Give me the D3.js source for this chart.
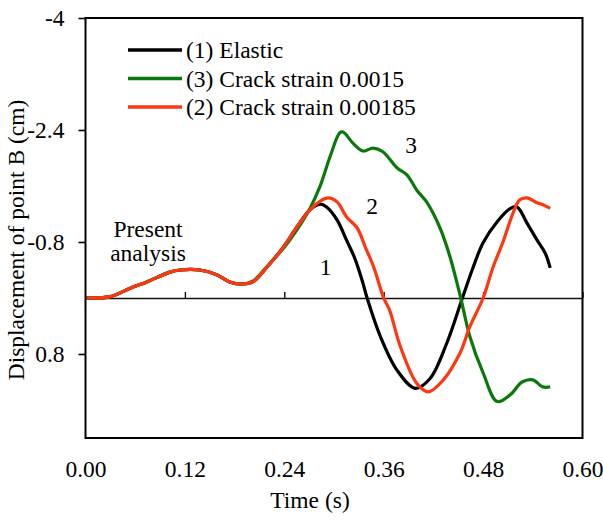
<!DOCTYPE html>
<html>
<head>
<meta charset="utf-8">
<script src="https://cdn.jsdelivr.net/npm/d3@7"></script>
<style>
    body { margin: 0; background: #ffffff; }
    text { font-family: "Liberation Serif", "Times New Roman", serif; fill: #000; }
</style>
</head>
<body>
<div id="chart"></div>
<script>
// time (s), displacement (cm)
const elastic = [
    [0.000, 0.00], [0.030, -0.02], [0.054, -0.14], [0.074, -0.23], [0.102, -0.37],
    [0.114, -0.40], [0.138, -0.40], [0.159, -0.33], [0.174, -0.23], [0.190, -0.20],
    [0.202, -0.23], [0.219, -0.44], [0.239, -0.73], [0.255, -1.01], [0.271, -1.26],
    [0.283, -1.34], [0.291, -1.30], [0.304, -1.11], [0.315, -0.83], [0.325, -0.57],
    [0.334, -0.25], [0.340, 0.00], [0.356, 0.55], [0.376, 1.03], [0.398, 1.29],
    [0.416, 1.15], [0.436, 0.65], [0.455, 0.00], [0.468, -0.44], [0.480, -0.79],
    [0.497, -1.09], [0.513, -1.28], [0.521, -1.30], [0.533, -1.07], [0.545, -0.83],
    [0.555, -0.64], [0.561, -0.43]
];
const crack15 = [
    [0.000, 0.00], [0.030, -0.02], [0.054, -0.14], [0.074, -0.23], [0.102, -0.37],
    [0.114, -0.40], [0.138, -0.40], [0.159, -0.33], [0.174, -0.23], [0.190, -0.20],
    [0.202, -0.24], [0.219, -0.45], [0.239, -0.71], [0.255, -0.97], [0.271, -1.28],
    [0.283, -1.59], [0.295, -2.01], [0.307, -2.36], [0.311, -2.37], [0.323, -2.21],
    [0.335, -2.10], [0.347, -2.14], [0.359, -2.09], [0.376, -1.86], [0.388, -1.76],
    [0.400, -1.54], [0.412, -1.37], [0.428, -1.00], [0.440, -0.59], [0.453, 0.00],
    [0.464, 0.55], [0.480, 1.07], [0.497, 1.48], [0.513, 1.38], [0.527, 1.20],
    [0.540, 1.17], [0.552, 1.27], [0.561, 1.27]
];
const crack185 = [
    [0.000, 0.00], [0.030, -0.02], [0.054, -0.14], [0.074, -0.23], [0.102, -0.37],
    [0.114, -0.40], [0.138, -0.40], [0.159, -0.33], [0.174, -0.23], [0.190, -0.20],
    [0.202, -0.23], [0.219, -0.44], [0.239, -0.73], [0.255, -1.01], [0.271, -1.26],
    [0.283, -1.38], [0.293, -1.43], [0.304, -1.37], [0.315, -1.16], [0.328, -1.00],
    [0.338, -0.72], [0.348, -0.44], [0.360, 0.00], [0.367, 0.17], [0.380, 0.69],
    [0.400, 1.22], [0.414, 1.34], [0.432, 1.17], [0.452, 0.79], [0.464, 0.41],
    [0.480, 0.00], [0.492, -0.44], [0.504, -0.80], [0.516, -1.21], [0.524, -1.40],
    [0.533, -1.43], [0.545, -1.36], [0.553, -1.33], [0.561, -1.28]
];

const xTicks = [0, 0.12, 0.24, 0.36, 0.48, 0.60];
const yTicks = [-4, -2.4, -0.8, 0.8];
const seriesNames = ["(1) Elastic", "(3) Crack strain 0.0015", "(2) Crack strain 0.00185"];
const seriesColors = ["#000000", "#0b780b", "#ff3612"];
const curveLabels = [["1", 0.290, -0.45], ["2", 0.346, -1.31], ["3", 0.393, -2.19]];

const width = 603;
const height = 523;
const fontSize = 23.5;

const svg = d3.select("#chart")
    .append("svg")
    .attr("width", width)
    .attr("height", height);

const x = d3.scaleLinear().domain([0, 0.6]).range([85.5, 582.5]);
const y = d3.scaleLinear().domain([-4, 2]).range([18, 438]);

// y axis ticks + labels (left, outside the frame)
svg.append("g")
    .attr("transform", `translate(${x(0)},0)`)
    .call(d3.axisLeft(y).tickValues(yTicks).tickSize(7).tickPadding(14).tickFormat(d => d))
    .call(g => g.select(".domain").remove())
    .call(g => g.selectAll("line").attr("stroke", "#000").attr("stroke-width", 1.6))
    .call(g => g.selectAll("text")
        .style("font-family", "Liberation Serif")
        .style("font-size", fontSize + "px")
        .attr("dy", "0.33em"));

// x tick labels under the frame
svg.append("g")
    .attr("transform", `translate(0,${y(2)})`)
    .call(d3.axisBottom(x).tickValues(xTicks).tickSize(0).tickFormat(d3.format(".2f")))
    .call(g => g.select(".domain").remove())
    .call(g => g.selectAll("text")
        .style("font-family", "Liberation Serif")
        .style("font-size", fontSize + "px")
        .attr("y", 39)
        .attr("dy", 0));

// zero line with small upward ticks
svg.append("g")
    .attr("transform", `translate(0,${y(0)})`)
    .call(d3.axisTop(x).tickValues(xTicks.slice(1)).tickSize(6).tickSizeOuter(0).tickFormat(""))
    .call(g => g.select(".domain").attr("stroke", "#111").attr("stroke-width", 1.6))
    .call(g => g.selectAll("line").attr("stroke", "#111").attr("stroke-width", 1.4));

const line = d3.line()
    .x(d => x(d[0]))
    .y(d => y(d[1]))
    .curve(d3.curveCatmullRom.alpha(0.5));

[elastic, crack15, crack185].forEach((s, i) => {
    svg.append("path")
        .datum(s)
        .attr("d", line)
        .attr("fill", "none")
        .attr("stroke", seriesColors[i])
        .attr("stroke-width", 3.2)
        .attr("stroke-linejoin", "round");
});

// frame
svg.append("rect")
    .attr("x", x(0))
    .attr("y", y(-4))
    .attr("width", x(0.6) - x(0))
    .attr("height", y(2) - y(-4))
    .attr("fill", "none")
    .attr("stroke", "#000")
    .attr("stroke-width", 2);

// legend
const legend = svg.append("g");
const legendY = [50, 78.5, 107];
seriesNames.forEach((name, i) => {
    legend.append("line")
        .attr("x1", 128).attr("x2", 182)
        .attr("y1", legendY[i]).attr("y2", legendY[i])
        .attr("stroke", seriesColors[i])
        .attr("stroke-width", 3.5);
    legend.append("text")
        .attr("x", 186)
        .attr("y", legendY[i] + 8)
        .style("font-size", fontSize + "px")
        .text(name);
});

// curve numbers
svg.selectAll(".curve-label")
    .data(curveLabels)
    .enter()
    .append("text")
    .attr("class", "curve-label")
    .attr("x", d => x(d[1]))
    .attr("y", d => y(d[2]) + 8)
    .attr("text-anchor", "middle")
    .style("font-size", fontSize + "px")
    .text(d => d[0]);

svg.append("text")
    .attr("x", 148)
    .attr("y", 237)
    .attr("text-anchor", "middle")
    .style("font-size", fontSize + "px")
    .text("Present");
svg.append("text")
    .attr("x", 148)
    .attr("y", 261)
    .attr("text-anchor", "middle")
    .style("font-size", fontSize + "px")
    .text("analysis");

// axis titles
svg.append("text")
    .attr("x", 310)
    .attr("y", 508)
    .attr("text-anchor", "middle")
    .style("font-size", fontSize + "px")
    .text("Time (s)");

svg.append("text")
    .attr("transform", "translate(24,240) rotate(-90)")
    .attr("text-anchor", "middle")
    .style("font-size", fontSize + "px")
    .text("Displacement of point B (cm)");
</script>
</body>
</html>
